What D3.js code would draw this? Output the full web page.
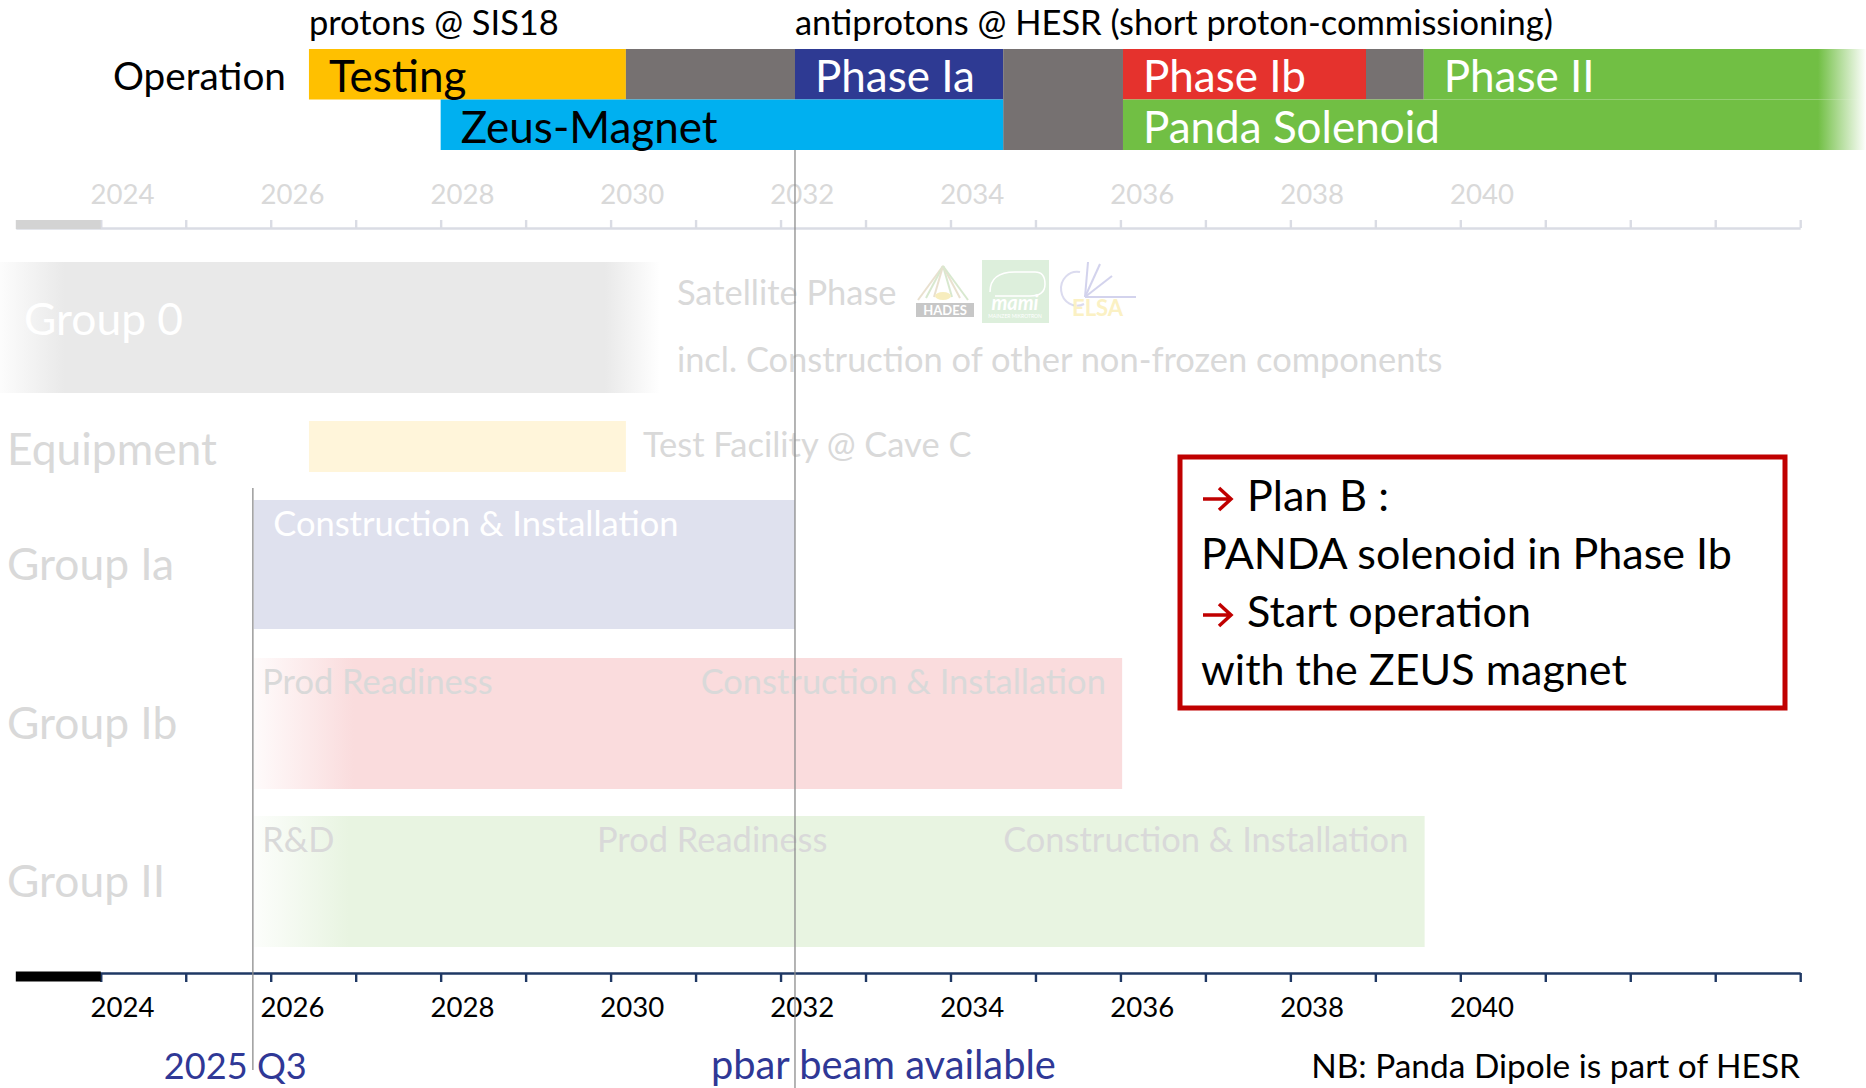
<!DOCTYPE html>
<html>
<head>
<meta charset="utf-8">
<script src="https://cdn.jsdelivr.net/npm/d3@7"></script>
<style>
  body { margin: 0; background: #fff; }
  text { font-family: Lato, "Open Sans", sans-serif; }
</style>
</head>
<body>
<div id="chart"></div>
<script>
// ---- data (years) ----
var axisYears = [2023, 2044];
var tickYears = [2024, 2025, 2026, 2027, 2028, 2029, 2030, 2031, 2032, 2033, 2034,
                 2035, 2036, 2037, 2038, 2039, 2040, 2041, 2042, 2043, 2044];
var labelYears = [2024, 2026, 2028, 2030, 2032, 2034, 2036, 2038, 2040];
var doneUntil = 2024;

var beamNames = ["protons @ SIS18", "antiprotons @ HESR (short proton-commissioning)"];
var beamStart = [2026.45, 2032.17];

var opNames = ["Testing", null, "Phase Ia", null, "Phase Ib", null, "Phase II", "Zeus-Magnet", "Panda Solenoid"];
var opStart = [2026.45, 2030.18, 2032.17, 2034.62, 2036.03, 2038.89, 2039.57, 2028.0, 2036.03];
var opEnd   = [2030.18, 2032.17, 2034.62, 2036.03, 2038.89, 2039.57, 2044.78, 2034.62, 2044.78];
var opLane  = ["upper", "upper", "upper", "both", "upper", "upper", "upper", "lower", "lower"];

var groupNames = ["Group 0", "Equipment", "Group Ia", "Group Ib", "Group II"];
var groupStart = [2022.81, 2026.45, 2025.8, 2025.8, 2025.8];
var groupEnd   = [2030.58, 2030.18, 2032.17, 2036.02, 2039.58];

var stepGroup = ["Group Ia", "Group Ib", "Group Ib", "Group II", "Group II", "Group II"];
var stepName  = ["Construction & Installation", "Prod Readiness", "Construction & Installation",
                 "R&D", "Prod Readiness", "Construction & Installation"];
var stepStart = [2026.03, 2025.9, 2031.06, 2025.9, 2029.84, 2034.62];

var noteGroup = ["Group 0", "Group 0", "Equipment"];
var noteText  = ["Satellite Phase", "incl. Construction of other non-frozen components", "Test Facility @ Cave C"];

var milestoneYear = [2025.79, 2032.17];
var milestoneText = ["2025 Q3", "pbar beam available"];

var planLines = ["Plan B :", "PANDA solenoid in Phase Ib", "Start operation", "with the ZEUS magnet"];
var planArrow = [true, false, true, false];
var footnote = "NB: Panda Dipole is part of HESR";

// ---- layout / styles ----
var width = 1866, height = 1088;
var faint = "#D9D9D9", navy = "#1F3864", blue = "#2F3896";
var palette = {"Testing": "#FFC000", "gap": "#767171", "Phase Ia": "#2E3A93", "Phase Ib": "#E5322D",
               "Phase II": "#71BF44", "Zeus-Magnet": "#00B0F0", "Panda Solenoid": "#71BF44"};
var darkLabel = {"Testing": true, "Zeus-Magnet": true};
var groupFill = {"Group 0": "#E9E9E9", "Equipment": "#FFF5DA", "Group Ia": "#DFE1EE",
                 "Group Ib": "#FADCDD", "Group II": "#E8F4E1"};
var fadeLeft = {"Group 0": 65, "Group Ib": 100, "Group II": 95};
var fadeRight = {"Group 0": 55};
var labelDy = {"Group 0": -8, "Equipment": 3};
var noteDy = [43, 110, 36];
var milestoneDx = [-89, -84];

var svg = d3.select("#chart").append("svg")
    .attr("width", width)
    .attr("height", height);
var defs = svg.append("defs");

var x = d3.scaleLinear().domain(axisYears).range([15.8, 1800.2]);
var lane = d3.scaleBand().domain(["upper", "lower"]).range([49, 150]);
var rowTop = d3.scaleOrdinal().domain(groupNames).range([262, 421, 500, 658, 816]);
var rowH = d3.scaleOrdinal().domain(groupNames).range([131, 51, 129, 131, 131]);

// font size so that a sample string gets the width it has in the slide
function sizeFor(str, w) {
  var t = svg.append("text").style("font-size", "100px").text(str);
  var len = t.node().getComputedTextLength();
  t.remove();
  return 100 * w / len;
}
var fsBeam = sizeFor("protons @ SIS18", 250),
    fsOpTitle = sizeFor("Operation", 173),
    fsOp = sizeFor("Panda Solenoid", 297),
    fsAxis = sizeFor("2024", 64),
    fsGroup = sizeFor("Equipment", 210),
    fsNote = sizeFor("incl. Construction of other non-frozen components", 766),
    fsBox = sizeFor("PANDA solenoid in Phase Ib", 531),
    fsMile = [sizeFor("2025 Q3", 143), sizeFor("pbar beam available", 345)],
    fsFoot = sizeFor(footnote, 489);

function hGradient(id, x1, x2, color, stops) {
  var g = defs.append("linearGradient").attr("id", id)
      .attr("gradientUnits", "userSpaceOnUse")
      .attr("x1", x1).attr("x2", x2).attr("y1", 0).attr("y2", 0);
  stops.forEach(function(s) {
    g.append("stop").attr("offset", s[0]).attr("stop-color", color).attr("stop-opacity", s[1]);
  });
  return "url(#" + id + ")";
}

// ---- operation bars ----
var ops = opNames.map(function(n, i) {
  return {name: n, start: opStart[i], end: opEnd[i], lane: opLane[i]};
});
var greenFade = hGradient("greenFade", 1818, x(2044.78), palette["Phase II"], [[0, 1], [1, 0]]);

svg.append("g").selectAll("rect")
  .data(ops)
  .enter().append("rect")
    .attr("x", function(d) { return x(d.start); })
    .attr("width", function(d) { return x(d.end) - x(d.start); })
    .attr("y", function(d) { return d.lane == "both" ? lane("upper") : lane(d.lane); })
    .attr("height", function(d) { return d.lane == "both" ? lane.bandwidth() * 2 : lane.bandwidth(); })
    .attr("fill", function(d) {
      if (!d.name) return palette.gap;
      return d.end > axisYears[1] ? greenFade : palette[d.name];
    });

svg.append("g").selectAll("text")
  .data(ops.filter(function(d) { return d.name; }))
  .enter().append("text")
    .attr("x", function(d) { return x(d.start) + 20; })
    .attr("y", function(d) { return lane(d.lane) + 43; })
    .style("font-size", fsOp + "px")
    .attr("fill", function(d) { return darkLabel[d.name] ? "#000" : "#fff"; })
    .text(function(d) { return d.name; });

svg.append("text")
    .attr("x", x(opStart[0]) - 23)
    .attr("y", 90)
    .attr("text-anchor", "end")
    .style("font-size", fsOpTitle + "px")
    .text("Operation");

svg.append("g").selectAll("text")
  .data(beamNames)
  .enter().append("text")
    .attr("x", function(d, i) { return x(beamStart[i]); })
    .attr("y", 35)
    .style("font-size", fsBeam + "px")
    .text(function(d) { return d; });

// ---- axes ----
function drawAxis(axis, y, lineColor, done, labelColor, labelY) {
  var g = svg.append("g").attr("transform", "translate(0," + y + ")").call(axis);
  g.select(".domain").attr("stroke", lineColor).attr("stroke-width", 2.6);
  g.selectAll(".tick line").attr("stroke", lineColor).attr("stroke-width", 2.4);
  g.append("rect")
      .attr("x", x(axisYears[0]))
      .attr("width", x(doneUntil) - x(axisYears[0]))
      .attr("y", done[0]).attr("height", done[1])
      .attr("fill", done[2]);
  var lab = svg.append("g").attr("transform", "translate(0," + y + ")")
      .call(d3.axisBottom(x)
        .tickValues(labelYears.map(function(v) { return v + 0.25; }))
        .tickSize(0)
        .tickFormat(function(v) { return Math.floor(v); }));
  lab.select(".domain").remove();
  lab.selectAll("text")
      .attr("y", labelY).attr("dy", 0)
      .attr("fill", labelColor)
      .style("font-size", fsAxis + "px")
      .style("font-family", "Lato, sans-serif");
}
drawAxis(d3.axisTop(x).tickValues(tickYears).tickSize(8).tickSizeOuter(0).tickFormat(""),
         228, "#DADCE4", [-8, 9, "#D3D3D3"], faint, -24);
drawAxis(d3.axisBottom(x).tickValues(tickYears).tickSize(9).tickSizeOuter(0).tickFormat(""),
         973, navy, [-1.5, 10, "#000"], "#000", 44);

// ---- group rows ----
var groups = groupNames.map(function(n, i) {
  return {name: n, start: groupStart[i], end: groupEnd[i]};
});
svg.append("g").selectAll("rect")
  .data(groups)
  .enter().append("rect")
    .attr("x", function(d) { return x(d.start); })
    .attr("width", function(d) { return x(d.end) - x(d.start); })
    .attr("y", function(d) { return rowTop(d.name); })
    .attr("height", function(d) { return rowH(d.name); })
    .attr("fill", function(d, i) {
      var x0 = x(d.start), x1 = x(d.end), w = x1 - x0;
      if (!fadeLeft[d.name]) return groupFill[d.name];
      var stops = [[0, 0.12], [fadeLeft[d.name] / w, 1]];
      if (fadeRight[d.name]) stops.push([1 - fadeRight[d.name] / w, 1], [1, 0]);
      else stops.push([1, 1]);
      return hGradient("fade" + i, x0, x1, groupFill[d.name], stops);
    });

svg.append("g").selectAll("text")
  .data(groups)
  .enter().append("text")
    .attr("x", function(d) { return d.name == "Group 0" ? 24 : 7; })
    .attr("y", function(d) {
      return rowTop(d.name) + rowH(d.name) / 2 + fsGroup * 0.34 + (labelDy[d.name] || 0);
    })
    .style("font-size", fsGroup + "px")
    .attr("fill", function(d) { return d.name == "Group 0" ? "#fff" : faint; })
    .text(function(d) { return d.name; });

svg.append("g").selectAll("text")
  .data(stepName)
  .enter().append("text")
    .attr("x", function(d, i) { return x(stepStart[i]); })
    .attr("y", function(d, i) { return rowTop(stepGroup[i]) + 36; })
    .style("font-size", fsNote + "px")
    .attr("fill", function(d, i) { return stepGroup[i] == "Group Ia" ? "#fff" : faint; })
    .text(function(d) { return d; });

svg.append("g").selectAll("text")
  .data(noteText)
  .enter().append("text")
    .attr("x", function(d, i) { return x(groupEnd[groupNames.indexOf(noteGroup[i])]) + 17; })
    .attr("y", function(d, i) { return rowTop(noteGroup[i]) + noteDy[i]; })
    .style("font-size", fsNote + "px")
    .attr("fill", faint)
    .text(function(d) { return d; });

// faint logos next to "Satellite Phase"
var logos = svg.append("g").attr("opacity", 0.55);
[[918, 300], [926, 298], [934, 297], [952, 297], [960, 298], [968, 300]].forEach(function(p, i) {
  logos.append("line").attr("x1", 943).attr("y1", 266).attr("x2", p[0]).attr("y2", p[1])
      .attr("stroke", i % 2 ? "#B9D7A8" : "#D8C8A8").attr("stroke-width", 2);
});
logos.append("ellipse").attr("cx", 943).attr("cy", 296).attr("rx", 8).attr("ry", 4).attr("fill", "#F2E08A");
logos.append("rect").attr("x", 916).attr("y", 303).attr("width", 58).attr("height", 14).attr("fill", "#9A9A9A");
logos.append("text").attr("x", 945).attr("y", 315).attr("text-anchor", "middle")
    .style("font-size", "13px").style("font-weight", "bold").attr("fill", "#fff").text("HADES");
svg.append("rect").attr("x", 982).attr("y", 260).attr("width", 67).attr("height", 63).attr("fill", "#DDEFDC");
svg.append("path").attr("d", "M990,292 Q990,272 1015,272 L1035,272 Q1045,272 1045,284 Q1045,296 1030,296 L995,296")
    .attr("fill", "none").attr("stroke", "#fff").attr("stroke-width", 1.5);
svg.append("text").attr("x", 1015).attr("y", 310).attr("text-anchor", "middle")
    .style("font-size", "20px").style("font-style", "italic").style("font-weight", "bold")
    .attr("fill", "#fff").text("mami");
svg.append("text").attr("x", 1015).attr("y", 318).attr("text-anchor", "middle")
    .style("font-size", "5px").attr("fill", "#fff").text("MAINZER MIKROTRON");
var elsa = svg.append("g").attr("opacity", 0.5);
elsa.append("path").attr("d", "M1080,272 A16,17 0 1 0 1084,304")
    .attr("fill", "none").attr("stroke", "#B8B8E0").attr("stroke-width", 2);
[[1136, 297], [1112, 276], [1100, 264], [1088, 262]].forEach(function(p) {
  elsa.append("line").attr("x1", 1085).attr("y1", 297).attr("x2", p[0]).attr("y2", p[1])
      .attr("stroke", "#A8A8DC").attr("stroke-width", 2);
});
svg.append("text").attr("x", 1072).attr("y", 316)
    .style("font-size", "22px").style("font-weight", "bold").attr("fill", "#FBF1C4").text("ELSA");

// ---- milestone lines ----
svg.append("line").attr("x1", x(milestoneYear[0])).attr("x2", x(milestoneYear[0]))
    .attr("y1", 488).attr("y2", 1070).attr("stroke", "#8C8C8C").attr("stroke-width", 1.3);
svg.append("line").attr("x1", x(milestoneYear[1])).attr("x2", x(milestoneYear[1]))
    .attr("y1", lane("lower") + lane.bandwidth()).attr("y2", height)
    .attr("stroke", "#8C8C8C").attr("stroke-width", 1.3);

svg.append("g").selectAll("text")
  .data(milestoneText)
  .enter().append("text")
    .attr("x", function(d, i) { return x(milestoneYear[i]) + milestoneDx[i]; })
    .attr("y", 1079)
    .style("font-size", function(d, i) { return fsMile[i] + "px"; })
    .attr("fill", blue)
    .text(function(d) { return d; });

svg.append("text")
    .attr("x", 1800).attr("y", 1078)
    .attr("text-anchor", "end")
    .style("font-size", fsFoot + "px")
    .text(footnote);

// ---- Plan B box ----
svg.append("rect")
    .attr("x", 1180).attr("y", 457)
    .attr("width", 605).attr("height", 251)
    .attr("fill", "#fff")
    .attr("stroke", "#C00000").attr("stroke-width", 5);

var plan = svg.append("g").selectAll("g")
  .data(planLines)
  .enter().append("g")
    .attr("transform", function(d, i) { return "translate(1201," + (511 + i * 58) + ")"; });
plan.filter(function(d, i) { return planArrow[i]; })
  .append("path")
    .attr("d", "M2,-12 H29 M18,-23 L30,-12 L18,-1")
    .attr("fill", "none").attr("stroke", "#C00000").attr("stroke-width", 3.5);
plan.append("text")
    .attr("x", function(d, i) { return planArrow[i] ? 46 : 0; })
    .style("font-size", fsBox + "px")
    .text(function(d) { return d; });
</script>
</body>
</html>
